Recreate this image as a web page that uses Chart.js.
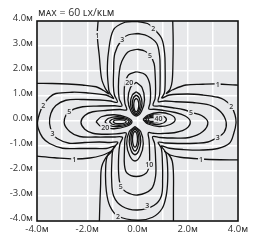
<!DOCTYPE html>
<html>
<head>
<meta charset="utf-8">
<script src="https://cdn.jsdelivr.net/npm/chart.js@4.4.1/dist/chart.umd.min.js"></script>
<style>
  html, body { margin: 0; padding: 0; background: #fff; }
</style>
</head>
<body>
<canvas id="isolux" width="253" height="242"></canvas>
<script>
// --- data (metres) ---
const titleText = 'ᴍᴀx = 60 ʟx/ᴋʟᴍ';
const xTickLabels = ['-4.0ᴍ', '', '-2.0ᴍ', '', '0.0ᴍ', '', '2.0ᴍ', '', '4.0ᴍ'];
const yTickLabels = ['-4.0ᴍ', '-3.0ᴍ', '-2.0ᴍ', '-1.0ᴍ', '0.0ᴍ', '1.0ᴍ', '2.0ᴍ', '3.0ᴍ', '4.0ᴍ'];

// level 1 runs off the plot, so it is four open arcs
const c1NW = [[-1.56,4.1],[-1.6,3.44],[-1.52,2.6],[-1.43,1.7],[-1.28,1.3],[-1.13,1.08],[-1.35,1.22],[-1.65,1.37],[-2.2,1.44],[-2.8,1.48],[-3.4,1.5],[-4.1,1.51]];
const c1NE = [[1.4,4.1],[1.42,3.2],[1.41,2.3],[1.38,1.6],[1.3,1.28],[1.15,1.1],[1.4,1.25],[1.93,1.44],[2.6,1.47],[3.19,1.48],[3.92,1.44],[4.1,1.44]];
const c1SW = [[-4.1,-1.4],[-3.3,-1.47],[-2.52,-1.52],[-1.9,-1.48],[-1.4,-1.37],[-1.03,-1.22],[-1.25,-1.45],[-1.43,-1.85],[-1.47,-2.6],[-1.5,-3.4],[-1.52,-4.1]];
const c1SE = [[1.43,-4.1],[1.43,-3.0],[1.43,-2.1],[1.38,-1.6],[1.25,-1.35],[1.08,-1.22],[1.3,-1.36],[1.7,-1.45],[2.53,-1.52],[3.3,-1.55],[4.1,-1.56]];

// levels 2, 3, 5, 10 are closed four-leaf shapes
const c2 = [[0,3.98],[0.4,3.9],[0.63,3.71],[0.96,3.3],[1.08,2.7],[1.1,2.1],[1.1,1.5],[1.07,1.12],[0.97,0.92],
  [1.27,1.04],[2.0,1.08],[2.6,1.04],[3.2,0.95],[3.46,0.84],[3.73,0.6],[3.88,0.25],[3.92,-0.09],[3.83,-0.5],[3.66,-0.89],[3.2,-1.1],[2.6,-1.16],[1.8,-1.14],[1.27,-1.09],[0.95,-1.0],
  [1.12,-1.25],[1.19,-1.7],[1.2,-2.4],[1.14,-3.0],[0.98,-3.5],[0.6,-3.85],[0,-3.97],[-0.78,-3.8],[-1.1,-3.4],[-1.24,-2.8],[-1.27,-2.0],[-1.2,-1.4],[-0.9,-1.02],
  [-1.25,-1.1],[-1.65,-1.1],[-2.3,-1.1],[-2.98,-1.09],[-3.5,-0.9],[-3.78,-0.66],[-3.95,-0.3],[-3.98,-0.05],[-3.9,0.3],[-3.75,0.64],[-3.5,0.95],[-3.25,1.1],[-2.6,1.15],[-2.05,1.13],[-1.25,1.04],[-0.95,0.9],
  [-1.12,1.15],[-1.16,1.4],[-1.2,2.0],[-1.16,2.71],[-0.96,3.64],[-0.5,3.95],[0,3.98]];
const c3 = [[0,3.5],[0.4,3.4],[0.76,3.11],[0.88,2.6],[0.9,2.1],[0.9,1.5],[0.88,1.05],[0.82,0.78],
  [1.1,0.8],[1.53,0.77],[2.2,0.74],[2.86,0.64],[3.3,0.38],[3.53,-0.05],[3.45,-0.45],[3.19,-0.65],[2.8,-0.84],[2.33,-0.89],[1.6,-0.9],[1.1,-0.88],[0.82,-0.85],
  [0.95,-1.1],[0.99,-1.6],[1.0,-2.3],[0.95,-3.0],[0.65,-3.38],[0,-3.56],[-0.6,-3.42],[-0.95,-3.0],[-1.03,-2.3],[-1.02,-1.6],[-0.97,-1.12],[-0.78,-0.85],
  [-1.1,-0.86],[-1.52,-0.84],[-2.1,-0.86],[-2.72,-0.89],[-3.2,-0.7],[-3.38,-0.49],[-3.5,-0.1],[-3.45,0.3],[-3.25,0.62],[-2.85,0.83],[-2.2,0.86],[-1.5,0.84],[-1.08,0.8],[-0.8,0.75],
  [-0.92,1.05],[-0.96,1.4],[-0.95,2.0],[-0.9,2.71],[-0.61,3.28],[-0.35,3.45],[0,3.5]];
const c5 = [[0,2.87],[0.28,2.8],[0.5,2.64],[0.66,2.3],[0.7,1.9],[0.72,1.3],[0.7,0.9],[0.62,0.62],
  [0.9,0.6],[1.4,0.53],[1.85,0.45],[2.13,0.35],[2.55,0.22],[2.8,-0.05],[2.6,-0.42],[2.06,-0.66],[1.4,-0.68],[0.9,-0.66],[0.6,-0.63],
  [0.68,-0.9],[0.72,-1.5],[0.72,-2.2],[0.55,-2.72],[0,-2.96],[-0.45,-2.84],[-0.67,-2.6],[-0.75,-2.1],[-0.75,-1.4],[-0.7,-0.92],[-0.6,-0.65],
  [-0.95,-0.64],[-1.65,-0.64],[-2.3,-0.62],[-2.7,-0.42],[-2.92,-0.05],[-2.72,0.37],[-2.18,0.57],[-1.5,0.6],[-0.9,0.61],[-0.62,0.6],
  [-0.73,0.9],[-0.76,1.37],[-0.72,2.0],[-0.63,2.37],[-0.38,2.76],[0,2.87]];
const c10 = [[-0.05,1.97],[0.3,1.86],[0.47,1.55],[0.52,1.1],[0.5,0.72],[0.45,0.48],
  [0.65,0.47],[1.0,0.43],[1.5,0.34],[1.9,0.2],[2.1,-0.02],[1.95,-0.3],[1.55,-0.45],[1.0,-0.5],[0.62,-0.49],[0.43,-0.47],
  [0.46,-0.75],[0.48,-1.2],[0.47,-1.75],[0.35,-2.08],[-0.05,-2.22],[-0.42,-2.08],[-0.52,-1.75],[-0.52,-1.2],[-0.5,-0.72],[-0.45,-0.48],
  [-0.7,-0.5],[-1.2,-0.53],[-1.78,-0.49],[-2.1,-0.33],[-2.25,-0.05],[-2.1,0.22],[-1.78,0.37],[-1.2,0.43],[-0.7,0.46],[-0.43,0.45],
  [-0.5,0.7],[-0.53,1.1],[-0.5,1.5],[-0.35,1.85],[-0.05,1.97]];

// from 20 up the four lobes close on their own
const c20N = [[-0.05,1.55],[0.18,1.34],[0.28,0.85],[0.16,0.39],[-0.05,0.2],[-0.26,0.39],[-0.38,0.85],[-0.28,1.34],[-0.05,1.55]];
const c30N = [[-0.05,1.17],[0.11,1.03],[0.18,0.71],[0.1,0.39],[-0.05,0.25],[-0.2,0.39],[-0.28,0.71],[-0.21,1.03],[-0.05,1.17]];
const c40N = [[-0.05,1.04],[0.06,0.93],[0.11,0.67],[0.05,0.41],[-0.05,0.3],[-0.15,0.41],[-0.21,0.67],[-0.16,0.93],[-0.05,1.04]];
const c50N = [[-0.05,0.91],[0.02,0.83],[0.05,0.64],[0.02,0.45],[-0.05,0.37],[-0.12,0.45],[-0.15,0.64],[-0.12,0.83],[-0.05,0.91]];
const c20S = [[-0.1,-0.22],[0.13,-0.43],[0.23,-0.91],[0.11,-1.39],[-0.1,-1.6],[-0.31,-1.39],[-0.43,-0.91],[-0.33,-0.43],[-0.1,-0.22]];
const c30S = [[-0.1,-0.27],[0.06,-0.43],[0.13,-0.81],[0.05,-1.19],[-0.1,-1.35],[-0.25,-1.19],[-0.33,-0.81],[-0.26,-0.43],[-0.1,-0.27]];
const c40S = [[-0.1,-0.32],[0.01,-0.45],[0.06,-0.76],[0.0,-1.07],[-0.1,-1.2],[-0.2,-1.07],[-0.26,-0.76],[-0.21,-0.45],[-0.1,-0.32]];
const c50S = [[-0.1,-0.4],[-0.03,-0.5],[0.0,-0.72],[-0.03,-0.95],[-0.1,-1.05],[-0.17,-0.95],[-0.2,-0.72],[-0.17,-0.5],[-0.1,-0.4]];
const c20W = [[-1.65,-0.03],[-1.44,0.17],[-0.93,0.25],[-0.43,0.15],[-0.22,-0.03],[-0.43,-0.21],[-0.93,-0.31],[-1.44,-0.23],[-1.65,-0.03]];
const c30W = [[-1.3,-0.03],[-1.15,0.11],[-0.79,0.17],[-0.43,0.1],[-0.28,-0.03],[-0.43,-0.16],[-0.79,-0.23],[-1.15,-0.17],[-1.3,-0.03]];
const c40W = [[-1.12,-0.03],[-1.0,0.07],[-0.73,0.11],[-0.46,0.06],[-0.34,-0.03],[-0.46,-0.12],[-0.73,-0.17],[-1.0,-0.13],[-1.12,-0.03]];
const c50W = [[-0.98,-0.03],[-0.9,0.03],[-0.72,0.05],[-0.53,0.03],[-0.45,-0.03],[-0.53,-0.09],[-0.72,-0.11],[-0.9,-0.09],[-0.98,-0.03]];
const c20E = [[0.22,0.06],[0.42,0.24],[0.86,0.34],[1.3,0.26],[1.5,0.06],[1.3,-0.14],[0.86,-0.22],[0.42,-0.12],[0.22,0.06]];
const c30E = [[0.28,0.06],[0.41,0.19],[0.72,0.26],[1.02,0.2],[1.15,0.06],[1.02,-0.08],[0.72,-0.14],[0.41,-0.07],[0.28,0.06]];
const c40E = [[0.34,0.06],[0.43,0.15],[0.62,0.2],[0.81,0.16],[0.9,0.06],[0.81,-0.04],[0.62,-0.08],[0.43,-0.03],[0.34,0.06]];
const c50E = [[0.42,0.06],[0.47,0.12],[0.59,0.14],[0.71,0.12],[0.76,0.06],[0.71,0.0],[0.59,-0.02],[0.47,0.0],[0.42,0.06]];

// in-line contour labels: [x, y, text]
const contourLabels = [
  [-1.6,3.44,'1'], [3.19,1.48,'1'], [-2.52,-1.52,'1'], [2.53,-1.52,'1'],
  [0.63,3.71,'2'], [-3.75,0.64,'2'], [3.73,0.6,'2'], [-0.78,-3.8,'2'],
  [-0.61,3.28,'3'], [-3.38,-0.49,'3'], [3.19,-0.65,'3'], [0.39,-3.37,'3'],
  [0.5,2.64,'5'], [-2.72,0.37,'5'], [2.13,0.35,'5'], [-0.67,-2.62,'5'],
  [0.47,-1.75,'10'], [-0.33,1.55,'20'], [-1.28,-0.25,'20'], [0.84,0.1,'40']
];

const contours = [c1NW, c1NE, c1SW, c1SE, c2, c3, c5, c10,
  c20N, c30N, c40N, c50N, c20S, c30S, c40S, c50S,
  c20W, c30W, c40W, c50W, c20E, c30E, c40E, c50E];

const plotBg = '#e7e8ea';
const tickFont = { family: '"Open Sans", "Noto Sans", sans-serif', size: 9.5 };

const plotFrame = {
  id: 'plotFrame',
  beforeDraw(chart) {
    const a = chart.chartArea, ctx = chart.ctx;
    ctx.save();
    ctx.fillStyle = plotBg;
    ctx.fillRect(a.left, a.top, a.right - a.left, a.bottom - a.top);
    ctx.restore();
  },
  afterDatasetsDraw(chart) {
    const ctx = chart.ctx, xs = chart.scales.x, ys = chart.scales.y;
    ctx.save();
    ctx.font = '600 7px "Open Sans", sans-serif';
    ctx.textAlign = 'center';
    ctx.textBaseline = 'middle';
    contourLabels.forEach(([lx, ly, txt]) => {
      const px = xs.getPixelForValue(lx), py = ys.getPixelForValue(ly);
      const w = ctx.measureText(txt).width + 2;
      ctx.fillStyle = plotBg;
      ctx.fillRect(px - w / 2, py - 4, w, 8);
      ctx.fillStyle = '#333';
      ctx.fillText(txt, px, py + 0.5);
    });
    ctx.restore();
  },
  afterDraw(chart) {
    const a = chart.chartArea, ctx = chart.ctx;
    ctx.save();
    ctx.strokeStyle = '#111';
    ctx.lineWidth = 1.6;
    ctx.strokeRect(a.left, a.top, a.right - a.left, a.bottom - a.top);
    // title, sitting on the top-left of the frame
    ctx.fillStyle = '#333';
    ctx.font = '10.5px "Open Sans", "Noto Sans", sans-serif';
    ctx.textAlign = 'left';
    ctx.textBaseline = 'middle';
    ctx.fillText(titleText, a.left + 1, a.top - 8);
    ctx.restore();
  }
};

new Chart(document.getElementById('isolux'), {
  type: 'scatter',
  data: {
    datasets: contours.map(pts => ({
      data: pts,
      showLine: true,
      borderColor: '#111',
      borderWidth: 1.3,
      tension: 0.35,
      pointRadius: 0,
      fill: false
    }))
  },
  options: {
    responsive: false,
    animation: false,
    events: [],
    layout: { padding: { top: 21, right: 15, left: 0, bottom: 0 } },
    plugins: { legend: { display: false }, tooltip: { enabled: false } },
    scales: {
      x: {
        type: 'linear', min: -4, max: 4,
        afterFit: s => { s.height = 21; },
        border: { display: false },
        grid: { color: '#fff', lineWidth: 1.5, drawTicks: false },
        ticks: { stepSize: 1, autoSkip: false, maxRotation: 0, padding: 3, color: '#333', font: tickFont,
          callback: v => xTickLabels[Math.round(v) + 4] }
      },
      y: {
        type: 'linear', min: -4, max: 4,
        afterFit: s => { s.width = 37; },
        border: { display: false },
        grid: { color: '#fff', lineWidth: 1.5, drawTicks: false },
        ticks: { stepSize: 1, autoSkip: false, padding: 4, labelOffset: -3, color: '#333', font: tickFont,
          callback: v => yTickLabels[Math.round(v) + 4] }
      }
    }
  },
  plugins: [plotFrame]
});
</script>
</body>
</html>
